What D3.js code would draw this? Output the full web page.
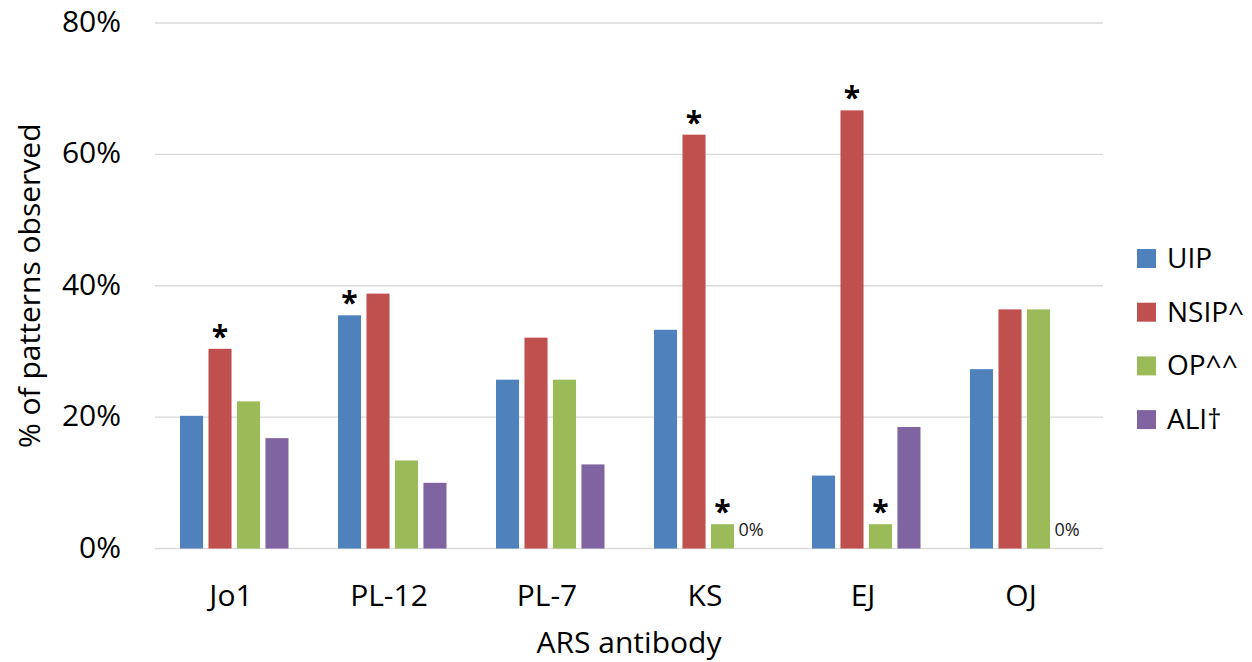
<!DOCTYPE html>
<html>
<head>
<meta charset="utf-8">
<script src="https://cdn.jsdelivr.net/npm/d3@7"></script>
<style>
  body { margin: 0; background: #fff; }
  text { font-family: "Open Sans", sans-serif; fill: #000; }
</style>
</head>
<body>
<svg id="paper"></svg>
<script>
// chart data
const categories = ["Jo1", "PL-12", "PL-7", "KS", "EJ", "OJ"];
const seriesNames = ["UIP", "NSIP^", "OP^^", "ALI\u2020"];
const uip  = [20.2, 35.5, 25.7, 33.3, 11.1, 27.3];
const nsip = [30.4, 38.8, 32.1, 63.0, 66.7, 36.4];
const op   = [22.4, 13.4, 25.7, 3.7, 3.7, 36.4];
const ali  = [16.8, 10.0, 12.8, 0, 18.5, 0];
const yTicks = [0, 20, 40, 60, 80];
// significance marks: [category, series]
const starred = [["Jo1", "NSIP^"], ["PL-12", "UIP"], ["KS", "NSIP^"], ["KS", "OP^^"], ["EJ", "NSIP^"], ["EJ", "OP^^"]];
// explicit zero labels: [category, series]
const zeroLabels = [["KS", "ALI\u2020"], ["OJ", "ALI\u2020"]];

const colors = ["#4F81BD", "#C0504D", "#9BBB59", "#8064A2"];
const allSeries = [uip, nsip, op, ali];

// flat table for the bars
let rows = [];
categories.forEach((c, i) => {
    seriesNames.forEach((s, j) => {
        rows.push({cat: c, ser: s, value: allSeries[j][i]});
    });
});
const lookup = (c, s) => rows.find(r => r.cat === c && r.ser === s);

var width = 1252, height = 662;
var plot = {left: 155, right: 1103, top: 23, bottom: 548.5};

var svg = d3.select("#paper")
    .attr("width", width)
    .attr("height", height);

var x0 = d3.scaleBand()
    .domain(categories)
    .range([plot.left, plot.right])
    .padding(0);

var x1 = d3.scaleBand()
    .domain(seriesNames)
    .range([25, 133.5])
    .paddingInner(0.19)
    .paddingOuter(0);

var y = d3.scaleLinear()
    .domain([0, 80])
    .range([plot.bottom, plot.top]);

var color = d3.scaleOrdinal()
    .domain(seriesNames)
    .range(colors);

// gridlines
svg.append("g")
    .selectAll("line")
    .data(yTicks)
    .enter().append("line")
    .attr("x1", plot.left)
    .attr("x2", plot.right)
    .attr("y1", d => y(d))
    .attr("y2", d => y(d))
    .attr("stroke", "#d9d9d9")
    .attr("stroke-width", 1.3);

// y tick labels
svg.append("g")
    .selectAll("text")
    .data(yTicks)
    .enter().append("text")
    .attr("x", 121)
    .attr("y", d => y(d) + 9)
    .attr("text-anchor", "end")
    .style("font-size", "30px")
    .text(d => d + "%");

// bars
svg.append("g")
    .selectAll("rect")
    .data(rows)
    .enter().append("rect")
    .attr("x", d => x0(d.cat) + x1(d.ser))
    .attr("y", d => y(d.value))
    .attr("width", x1.bandwidth())
    .attr("height", d => y(0) - y(d.value))
    .attr("fill", d => color(d.ser));

// asterisks
svg.append("g")
    .selectAll("text")
    .data(starred.map(p => lookup(p[0], p[1])))
    .enter().append("text")
    .attr("x", d => x0(d.cat) + x1(d.ser) + x1.bandwidth() / 2)
    .attr("y", d => y(d.value) - 2)
    .attr("text-anchor", "middle")
    .style("font-size", "30px")
    .style("font-weight", "bold")
    .text("*");

// 0% labels
svg.append("g")
    .selectAll("text")
    .data(zeroLabels.map(p => lookup(p[0], p[1])))
    .enter().append("text")
    .attr("x", d => x0(d.cat) + x1(d.ser) - 1)
    .attr("y", d => y(d.value) - 13)
    .style("font-size", "18px")
    .style("fill", "#222")
    .text("0%");

// category labels
svg.append("g")
    .selectAll("text")
    .data(categories)
    .enter().append("text")
    .attr("x", d => x0(d) + x0.bandwidth() / 2 - 3)
    .attr("y", 606)
    .attr("text-anchor", "middle")
    .style("font-size", "30px")
    .text(d => d);

// axis titles
svg.append("text")
    .attr("x", (plot.left + plot.right) / 2)
    .attr("y", 653)
    .attr("text-anchor", "middle")
    .style("font-size", "30px")
    .text("ARS antibody");

svg.append("text")
    .attr("transform", "translate(40," + ((plot.top + plot.bottom) / 2) + ") rotate(-90)")
    .attr("text-anchor", "middle")
    .style("font-size", "30px")
    .text("% of patterns observed");

// legend
var legend = svg.append("g")
    .selectAll("g")
    .data(seriesNames)
    .enter().append("g")
    .attr("transform", (d, i) => "translate(1137," + (249 + i * 53.7) + ")");

legend.append("rect")
    .attr("width", 19)
    .attr("height", 19)
    .attr("fill", d => color(d));

legend.append("text")
    .attr("x", 30)
    .attr("y", 19)
    .style("font-size", "28px")
    .text(d => d);
</script>
</body>
</html>
